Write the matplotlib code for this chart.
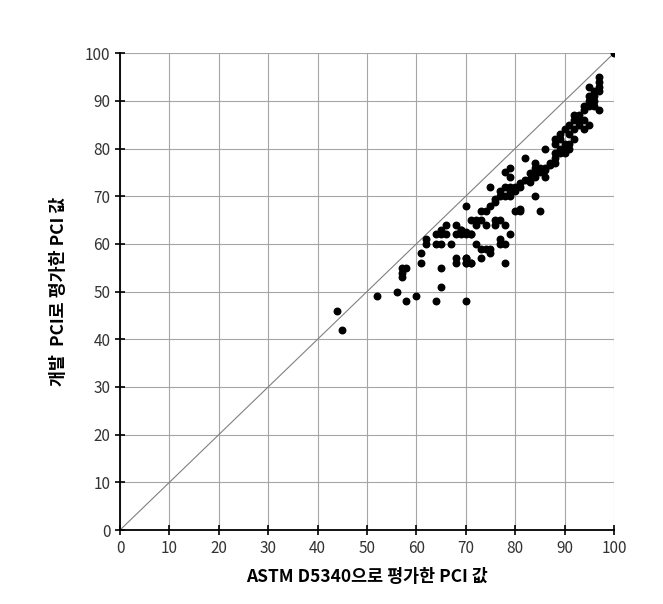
import matplotlib
matplotlib.use("Agg")
from matplotlib import pyplot as plt

plt.rcParams['font.family'] = ['Noto Sans CJK KR', 'DejaVu Sans']

# PCI from ASTM D5340 (x) vs developed PCI (y)
astm_pci = [44, 45, 52, 56, 57, 58, 57, 57, 58, 60,
            61, 61, 62, 62, 64, 65, 65, 66, 66, 64,
            65, 67, 68, 69, 70, 69, 71, 68, 65, 65,
            64, 70, 68, 68, 70, 70, 71, 70, 71, 72,
            73, 72, 74, 76, 77, 76, 78, 69, 70, 71,
            79, 72, 73, 74, 75, 75, 77, 77, 78, 70,
            70, 71, 73, 78, 73, 74, 75, 76, 76, 77,
            77, 78, 75, 79, 80, 78, 79, 79, 80, 81,
            85, 81, 79, 80, 81, 81, 82, 83, 83, 84,
            84, 85, 86, 86, 87, 84, 82, 84, 86, 86,
            88, 89, 88, 89, 90, 90, 89, 91, 91, 92,
            90, 91, 92, 92, 93, 93, 94, 95, 94, 94,
            95, 96, 95, 95, 95, 96, 97, 97, 97, 97,
            97, 100, 78, 79, 80, 83, 84, 85, 87, 88,
            88, 89, 90, 91, 93, 96, 96, 94, 92, 88]
dev_pci = [46, 42, 49, 50, 55, 55, 54, 53, 48, 49,
           58, 56, 61, 60, 62, 63, 62, 62, 64, 60,
           60, 60, 64, 63, 62.5, 62, 62, 62, 55, 51,
           48, 48, 57, 56, 57, 56, 56, 68, 65, 65,
           65, 64, 64, 65, 65, 64, 64, 63, 62, 62,
           62, 60, 59, 59, 59, 58, 61, 60, 60, 57,
           56, 56, 57, 56, 67, 67, 68, 68.8, 69.5, 70,
           71, 72, 72, 72, 72, 75, 74, 76, 67, 67,
           67, 67.4, 71, 71.5, 72, 72.7, 73.4, 73.7, 74.8, 75,
           76, 76, 75.5, 76, 76.5, 77, 78, 70, 74, 80,
           79, 79, 81, 82, 79, 80, 83, 80, 81, 82,
           84, 85, 86, 87, 87, 85, 84, 85, 88, 89,
           89, 89, 90, 91, 93, 92, 92, 93, 94, 95,
           88, 100, 70, 70, 71, 73, 74, 75, 77, 77,
           78, 80, 81, 83, 86, 91, 90, 86, 84, 82]

ticks = list(range(0, 101, 10))

fig = plt.figure(figsize=(6.63, 6.04), dpi=100)
ax = fig.add_axes([0.181, 0.1225, 0.745, 0.7895])

ax.plot([0, 100], [0, 100], color='#808080', linewidth=0.8, zorder=2)
ax.scatter(astm_pci, dev_pci, s=22, color='black', zorder=3)

ax.set_xlim(0, 100)
ax.set_ylim(0, 100)
ax.set_xticks(ticks)
ax.set_yticks(ticks)
ax.grid(True, color='#a6a6a6', linewidth=0.8, zorder=1)
ax.set_axisbelow(True)

for side in ['top', 'right']:
    ax.spines[side].set_visible(False)
for side in ['left', 'bottom']:
    ax.spines[side].set_linewidth(1.3)
    ax.spines[side].set_zorder(4)
ax.tick_params(direction='inout', length=7, width=1.2, labelsize=11,
               colors='black', labelcolor='#333333')

ax.set_xlabel('ASTM D5340으로 평가한 PCI 값', fontsize=12.5, fontweight='bold', labelpad=8)
ax.set_ylabel('개발  PCI로 평가한 PCI 값', fontsize=12.5, fontweight='bold', labelpad=12)

fig.savefig('out.png', dpi=100)
